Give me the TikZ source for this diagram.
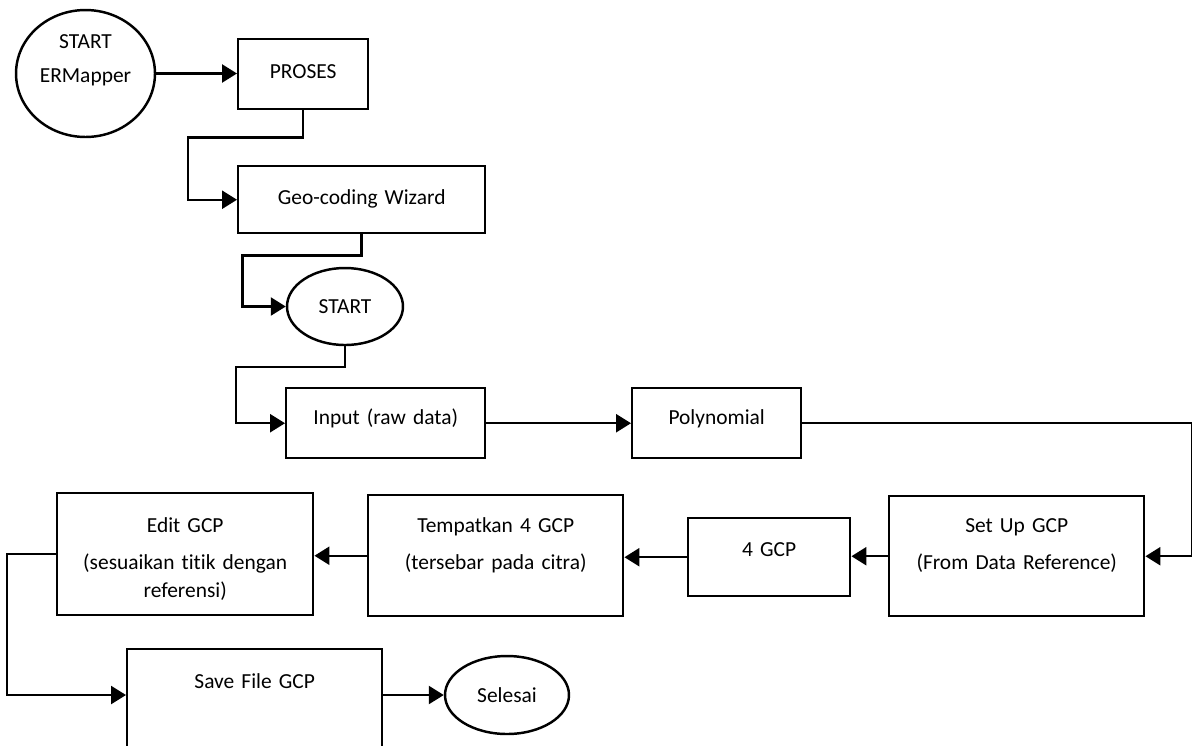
\documentclass[tikz,border=0pt]{standalone}
\usepackage{fontspec}
\setmainfont{Carlito}[Ligatures=CommonOff]
\usepackage{tikz}
\usetikzlibrary{shapes.geometric, arrows.meta, positioning, calc}

\begin{document}
\begin{tikzpicture}[
    x=0.02cm, y=-0.02cm,
    every node/.style={font=\fontsize{12.2}{15.9}\selectfont},
    block/.style={rectangle, draw, line width=1.4pt, inner sep=0pt, align=center, anchor=north west},
    terminal/.style={ellipse, draw, line width=1.4pt, inner sep=0pt, align=center},
    arrow/.style={-{Triangle[length=0.3cm, width=0.36cm]}, line width=1.4pt}
]
\useasboundingbox (0,0) rectangle (1192,745);

% Start
\node[terminal, minimum width=2.78cm, minimum height=2.54cm, text width=1.9cm, text height=0.32cm, text depth=1.34cm] (start_er) at (85.5,73.5) {START\\[4pt]ERMapper};
\node[block, text width=2.6cm, text height=0.78cm, text depth=0.62cm] (proses) at (237,38) {PROSES};
\node[block, text width=4.94cm, text height=0.76cm, text depth=0.58cm] (geo_wiz) at (237,165) {Geo-coding Wizard};
\node[terminal, minimum width=2.32cm, minimum height=1.54cm] (start) at (345,306.5) {START};

% Input row
\node[block, text width=3.98cm, text height=0.72cm, text depth=0.68cm] (input) at (285,387) {Input (raw data)};
\node[block, text width=3.38cm, text height=0.72cm, text depth=0.68cm] (poly) at (631,387) {Polynomial};

% GCP row
\node[block, text width=5.1cm, text height=0.72cm, text depth=1.68cm] (setup_gcp) at (888,495) {Set Up GCP\\[5.1pt](From Data Reference)};
\node[block, text width=3.24cm, text height=0.76cm, text depth=0.8cm] (four_gcp) at (687,517) {4 GCP};
\node[block, text width=5.1cm, text height=0.74cm, text depth=1.68cm] (place_gcp) at (367,494) {Tempatkan 4 GCP\\[5.1pt](tersebar pada citra)};
\node[block, text width=5.12cm, text height=0.78cm, text depth=1.66cm] (edit_gcp) at (56,492) {Edit GCP\\[5.1pt](sesuaikan titik dengan\\referensi)};

% End
\node[block, text width=5.1cm, text height=0.78cm, text depth=1.36cm] (save_gcp) at (126,648) {Save File GCP};
\node[terminal, minimum width=2.48cm, minimum height=1.56cm] (selesai) at (507,695) {Selesai};

% Arrows
\draw[arrow] (start_er.east) -- (start_er.east -| proses.west);
\draw[arrow] (proses.south) -- ++(0,27) -- ++(-115,0) |- (geo_wiz.west);
\draw[arrow] (geo_wiz.south) -- ++(0,21) -- ++(-119,0) |- (start.west);
\draw[arrow] (start.south) -- ++(0,21) -- ++(-109,0) |- (input.west);
\draw[arrow] (input) -- (poly);
\draw[arrow] (poly.east) -- ++(390,0) |- (setup_gcp.east);
\draw[arrow] (setup_gcp.west) -- (setup_gcp.west -| four_gcp.east);
\draw[arrow] (four_gcp.west) -- (four_gcp.west -| place_gcp.east);
\draw[arrow] (place_gcp.west) -- (place_gcp.west -| edit_gcp.east);
\draw[arrow] (edit_gcp.west) -- ++(-49,0) |- (save_gcp.west |- selesai.west);
\draw[arrow] (save_gcp.east |- selesai.west) -- (selesai.west);

\end{tikzpicture}
\end{document}
